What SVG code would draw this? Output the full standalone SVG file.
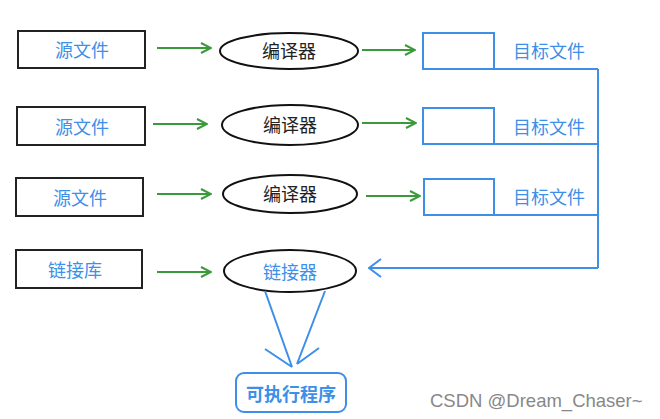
<svg xmlns="http://www.w3.org/2000/svg" width="660" height="419" viewBox="0 0 660 419">
<defs>
<style>
.src{fill:#fff;stroke:#222;stroke-width:2}
.ell{fill:#fff;stroke:#111;stroke-width:2}
.tgt{fill:#fff;stroke:#3d8fe8;stroke-width:2}
.t{font-family:"Noto Sans CJK SC","Liberation Sans",sans-serif;font-size:18px;text-anchor:middle;dominant-baseline:central}
.blue{fill:#3d8fe8}
.dark{fill:#222}
.g{stroke:#3a9a3a;stroke-width:2;fill:none}
.b{stroke:#3d8fe8;stroke-width:2;fill:none}
.wm{font-family:"Liberation Sans",Arial,sans-serif;font-size:18.5px;fill:#888}
</style>
<marker id="ga" viewBox="0 0 12 12" refX="11" refY="6" markerWidth="12" markerHeight="12" markerUnits="userSpaceOnUse" orient="auto">
<path d="M1,1 L11,6 L1,11" fill="none" stroke="#3a9a3a" stroke-width="2"/>
</marker>
<marker id="ba" viewBox="0 0 14 20" refX="13" refY="10" markerWidth="14" markerHeight="20" markerUnits="userSpaceOnUse" orient="auto">
<path d="M1,1 L13,10 L1,19" fill="none" stroke="#3d8fe8" stroke-width="2"/>
</marker>
</defs>
<rect width="660" height="419" fill="#fff"/>

<g id="src1"><rect class="src" x="18" y="31" width="127" height="37"/><text class="t blue" x="82" y="49">源文件</text></g>
<g id="src2"><rect class="src" x="17" y="107" width="128" height="38"/><text class="t blue" x="82" y="126">源文件</text></g>
<g id="src3"><rect class="src" x="16" y="178" width="127" height="38"/><text class="t blue" x="80" y="197">源文件</text></g>
<g id="lib"><rect class="src" x="16" y="250" width="126" height="38"/><text class="t blue" x="75" y="269">链接库</text></g>

<g id="cc1"><ellipse class="ell" cx="289" cy="51" rx="69" ry="18"/><text class="t dark" x="289" y="50">编译器</text></g>
<g id="cc2"><ellipse class="ell" cx="290" cy="125" rx="68" ry="20"/><text class="t dark" x="290" y="124">编译器</text></g>
<g id="cc3"><ellipse class="ell" cx="290" cy="194" rx="67" ry="19"/><text class="t dark" x="290" y="193">编译器</text></g>
<g id="linker"><ellipse class="ell" cx="290" cy="271" rx="66" ry="21"/><text class="t blue" x="290" y="271">链接器</text></g>

<g id="obj1"><rect class="tgt" x="423" y="33" width="71" height="36"/><text class="t blue" x="549" y="50">目标文件</text></g>
<g id="obj2"><rect class="tgt" x="423" y="108" width="71" height="36"/><text class="t blue" x="549" y="126">目标文件</text></g>
<g id="obj3"><rect class="tgt" x="424" y="179" width="70" height="36"/><text class="t blue" x="549" y="196">目标文件</text></g>

<g id="exe"><rect x="236" y="373" width="110" height="39" rx="8" fill="#fff" stroke="#3d8fe8" stroke-width="2"/><text class="t blue" x="291" y="393" style="font-weight:bold">可执行程序</text></g>

<g id="connectors">
<line class="g" x1="157" y1="48" x2="211" y2="48" marker-end="url(#ga)"/>
<line class="g" x1="153" y1="124" x2="207" y2="124" marker-end="url(#ga)"/>
<line class="g" x1="157" y1="194" x2="211" y2="194" marker-end="url(#ga)"/>
<line class="g" x1="157" y1="272" x2="211" y2="272" marker-end="url(#ga)"/>
<line class="g" x1="362" y1="50" x2="415" y2="50" marker-end="url(#ga)"/>
<line class="g" x1="362" y1="123" x2="416" y2="123" marker-end="url(#ga)"/>
<line class="g" x1="366" y1="196" x2="420" y2="196" marker-end="url(#ga)"/>
<path class="b" d="M494,69 H598 M494,144 H598 M494,215 H598 M598,69 V268"/>
<line class="b" x1="598" y1="268" x2="369" y2="268" marker-end="url(#ba)"/>
<path class="b" d="M265,291 L292,367 M265,349 L292,367"/>
<path class="b" d="M325,291 L297,364 M319,348 L297,364"/>
</g>

<text class="wm" x="430" y="407">CSDN @Dream_Chaser~</text>
</svg>
